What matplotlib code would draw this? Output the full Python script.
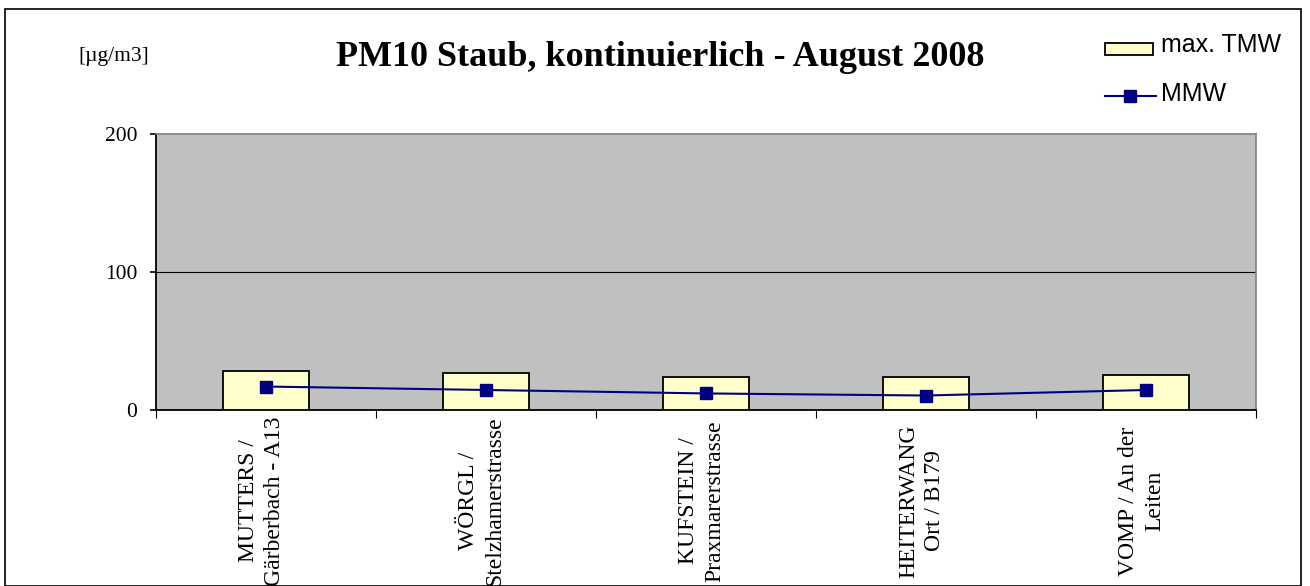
import matplotlib
matplotlib.use("Agg")
import matplotlib.pyplot as plt
import numpy as np
from matplotlib.patches import Rectangle
from matplotlib.lines import Line2D
from matplotlib.transforms import blended_transform_factory

categories = ["MUTTERS /\nGärberbach - A13", "WÖRGL /\nStelzhamerstrasse", "KUFSTEIN /\nPraxmarerstrasse",
              "HEITERWANG\nOrt / B179", "VOMP / An der\nLeiten"]
max_tmw = [28, 27, 24, 24, 25.5]
mmw = [17, 14.5, 12, 10.5, 14.5]
yticks = [0, 100, 200]

W, H = 1310, 586
fig = plt.figure(figsize=(W/100, H/100), dpi=100)
serif = ["Liberation Serif", "DejaVu Serif"]
sans = ["Liberation Sans", "DejaVu Sans"]

# outer border
fig.patches.append(Rectangle((5/W, 0), (1301-5)/W, (586-9)/H, transform=fig.transFigure,
                             fill=False, edgecolor="black", linewidth=1.2))

left, right, top, bottom = 156, 1256, 134, 410
ax = fig.add_axes([left/W, 1-bottom/H, (right-left)/W, (bottom-top)/H])
ax.set_facecolor("#C0C0C0")
x = np.arange(len(categories))
ax.bar(x, max_tmw, width=0.395, color="#FFFFCC", edgecolor="black", linewidth=1.3, zorder=3)
ax.plot(x, mmw, color="#000080", marker="s", markersize=8, linewidth=1.5, zorder=4)
ax.set_xlim(-0.5, len(categories)-0.5)
ax.set_ylim(0, 200)
ax.set_yticks(yticks)
ax.set_yticklabels([str(v) for v in yticks], fontfamily=serif, fontsize=15.5)
ax.axhline(100, color="black", linewidth=0.8, zorder=1)
ax.set_xticks(x)
ax.set_xticklabels([])
ax.tick_params(axis="x", length=0)
ax.set_xticks(np.arange(-0.5, len(categories)), minor=True)
ax.tick_params(axis="x", which="minor", length=6, direction="out", width=0.8)
ax.tick_params(axis="y", length=4.5, direction="out", pad=9, width=1.2)
for s in ["left", "bottom"]:
    ax.spines[s].set_color("black")
    ax.spines[s].set_linewidth(1.3)
for s in ["top", "right"]:
    ax.spines[s].set_color("#808080")
    ax.spines[s].set_linewidth(1.2)

trans = blended_transform_factory(ax.transData, fig.transFigure)
for xi, lab in zip(x, categories):
    ax.text(xi - 0.02, 1-501/H, lab, transform=trans, rotation=90, fontfamily=serif, fontsize=17,
            ha="center", va="center", multialignment="center", linespacing=1.3, clip_on=False)

fig.text(660/W, 1-57/H, "PM10 Staub, kontinuierlich - August 2008", fontfamily=serif,
         fontsize=26, fontweight="bold", ha="center", va="center")
fig.text(114/W, 1-57/H, "[µg/m3]", fontfamily=serif, fontsize=15.5, ha="center", va="center")

# legend
fig.patches.append(Rectangle((1105/W, 1-55/H), 48/W, 12/H, transform=fig.transFigure,
                             facecolor="#FFFFCC", edgecolor="black", linewidth=1.3))
fig.text(1161/W, 1-45/H, "max. TMW", fontfamily=sans, fontsize=18, ha="left", va="center")
fig.lines.append(Line2D([1105/W, 1156/W], [1-96/H, 1-96/H], transform=fig.transFigure,
                        color="#000080", linewidth=1.5))
fig.lines.append(Line2D([1130/W], [1-96/H], transform=fig.transFigure, color="#000080",
                        marker="s", markersize=8))
fig.text(1161/W, 1-94/H, "MMW", fontfamily=sans, fontsize=18, ha="left", va="center")

fig.savefig("out.png", dpi=100)
